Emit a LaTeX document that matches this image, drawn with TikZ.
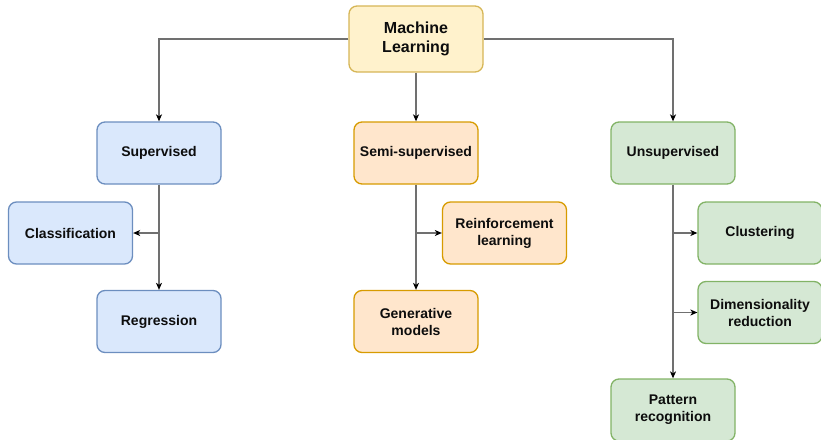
\documentclass[tikz,border=0pt]{standalone}
\usepackage{fontspec}
\setmainfont{Liberation Sans}
\usetikzlibrary{arrows.meta,positioning}
\definecolor{mlfill}{HTML}{FFF2CC}\definecolor{mldraw}{HTML}{D6B656}
\definecolor{bfill}{HTML}{DAE8FC}\definecolor{bdraw}{HTML}{6C8EBF}
\definecolor{ofill}{HTML}{FFE6CC}\definecolor{odraw}{HTML}{D79B00}
\definecolor{gfill}{HTML}{D5E8D4}\definecolor{gdraw}{HTML}{82B366}
\definecolor{edgecol}{HTML}{707070}
\tikzset{
  box/.style={rounded corners=8pt, line width=1.3pt, minimum width=124pt, minimum height=62pt,
    align=center, font=\fontsize{14pt}{17pt}\selectfont\bfseries, text=black!95, inner sep=2pt},
  bluebox/.style={box, fill=bfill, draw=bdraw},
  orangebox/.style={box, fill=ofill, draw=odraw},
  greenbox/.style={box, fill=gfill, draw=gdraw},
  conn/.style={draw=edgecol, line width=1.1pt, -{Stealth[length=7pt,width=6pt,inset=2pt,fill=black,color=black]}},
}
\begin{document}
\begin{tikzpicture}[x=1pt,y=-1pt]
\useasboundingbox (0,0) rectangle (821,439);
\node[box, fill=mlfill, draw=mldraw, minimum width=134pt, minimum height=66pt,
  font=\fontsize{16pt}{19pt}\selectfont\bfseries] (ml) at (416,39) {Machine\\Learning};
\node[bluebox] (sup) at (159,153) {Supervised};
\node[orangebox] (semi) at (416,153) {Semi-supervised};
\node[greenbox] (unsup) at (673,153) {Unsupervised};
\node[bluebox] (cls) at (70.5,233) {Classification};
\node[bluebox] (reg) at (159,321.5) {Regression};
\node[orangebox] (rl) at (504.5,233) {Reinforcement\\learning};
\node[orangebox] (gen) at (416,321.5) {Generative\\models};
\node[greenbox] (clu) at (760,233) {Clustering};
\node[greenbox] (dim) at (760,312.5) {Dimensionality\\reduction};
\node[greenbox] (pat) at (673,410) {Pattern\\recognition};
% top connectors
\draw[conn] (ml.west) -| (sup.north);
\draw[conn] (ml.south) -- (semi.north);
\draw[conn] (ml.east) -| (unsup.north);
% supervised
\coordinate (s1) at (sup.south |- cls.east);
\draw[conn] (sup.south) -- (reg.north);
\draw[conn] (s1) -- (cls.east);
% semi
\coordinate (m1) at (semi.south |- rl.west);
\draw[conn] (semi.south) -- (gen.north);
\draw[conn] (m1) -- (rl.west);
% unsupervised
\coordinate (u1) at (unsup.south |- clu.west);
\coordinate (u2) at (unsup.south |- dim.west);
\draw[conn] (unsup.south) -- (pat.north);
\draw[conn] (u1) -- (clu.west);
\draw[conn] (u2) -- (dim.west);
\end{tikzpicture}
\end{document}
